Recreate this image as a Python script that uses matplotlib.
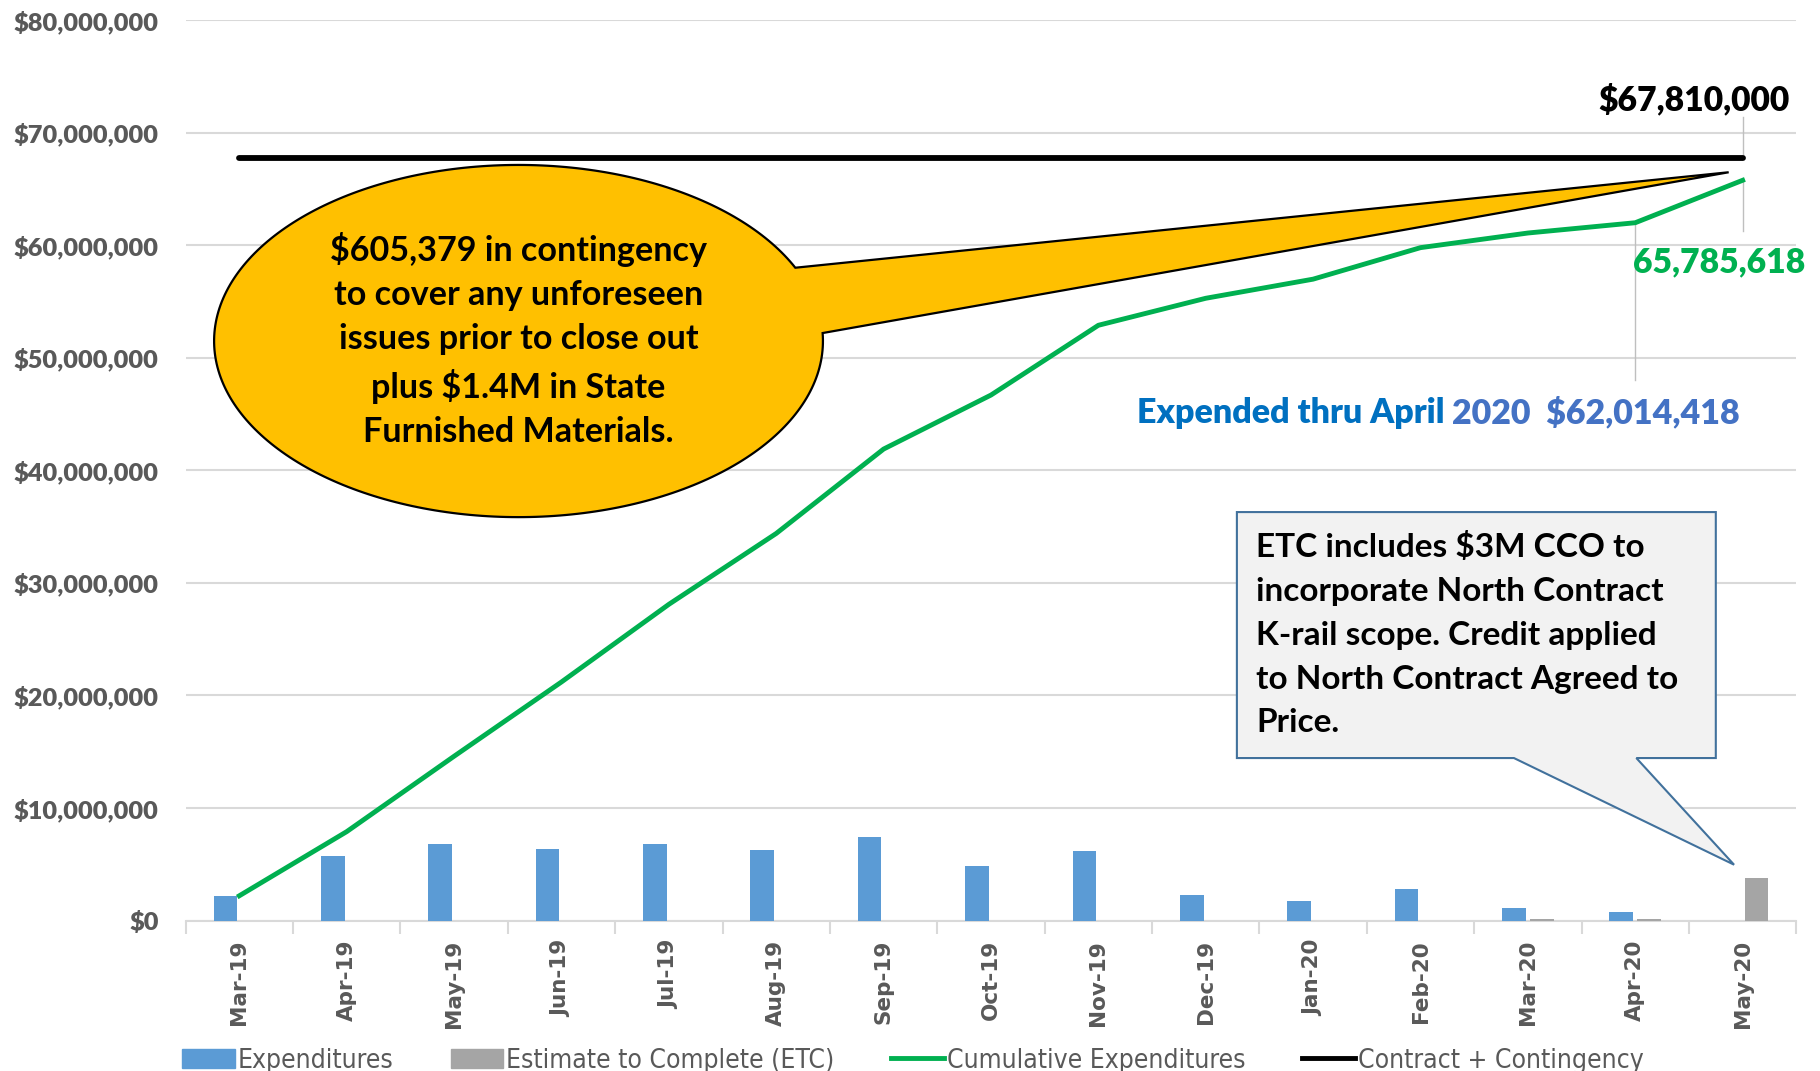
import numpy as np
import matplotlib
matplotlib.use('Agg')
import matplotlib.pyplot as plt
from matplotlib.patches import Polygon
from matplotlib.lines import Line2D
from matplotlib.patches import Patch

# chart data, values in $M
months = ['Mar-19', 'Apr-19', 'May-19', 'Jun-19', 'Jul-19', 'Aug-19', 'Sep-19', 'Oct-19',
          'Nov-19', 'Dec-19', 'Jan-20', 'Feb-20', 'Mar-20', 'Apr-20', 'May-20']
expenditures = [2.2, 5.7, 6.8, 6.4, 6.8, 6.3, 7.4, 4.85, 6.2, 2.3, 1.75, 2.8, 1.15, 0.75, 0]
etc = [0, 0, 0, 0, 0, 0, 0, 0, 0, 0, 0, 0, 0.15, 0.15, 3.8]
cumulative = [2.2, 7.9, 14.6, 21.2, 28.1, 34.4, 41.9, 46.7, 52.9, 55.3, 57.0, 59.8, 61.1, 62.014418, 65.785618]
contract = 67.81
y_ticks = [0, 10, 20, 30, 40, 50, 60, 70, 80]

BLUE = '#5B9BD5'
GRAY = '#A5A5A5'
GREEN = '#00B050'
TXT = '#595959'
FONT = ['Lato', 'DejaVu Sans']

fig = plt.figure(figsize=(18.2, 10.71), dpi=100)
ax = fig.add_axes([0.102, 0.1405, 0.885, 0.8405])

x = np.arange(len(months))
w = 0.22
ax.bar(x - 0.13, expenditures, w, color=BLUE, zorder=3)
ax.bar(x + 0.13, etc, w, color=GRAY, zorder=3)
ax.plot(x, cumulative, color=GREEN, lw=3.5, zorder=4)
ax.plot([x[0], x[-1]], [contract, contract], color='black', lw=4.2,
        solid_capstyle='round', zorder=4)

ax.set_xlim(-0.5, len(months) - 0.5)
ax.set_ylim(0, 80)
ax.set_yticks(y_ticks)
ax.set_yticklabels(['$' + format(v * 1000000, ',d') for v in y_ticks],
                   family=FONT, fontweight='heavy', fontsize=18.3, color=TXT)
ax.set_xticks(x)
ax.set_xticklabels(months, rotation=90, family='DejaVu Sans', fontweight='bold',
                   fontsize=15.5, color=TXT)
ax.set_xticks(np.arange(-0.5, len(months)), minor=True)
ax.tick_params(axis='x', which='major', length=0, pad=14)
ax.tick_params(axis='x', which='minor', length=9, color='#D9D9D9', width=1.5)
ax.tick_params(axis='y', length=0, pad=19.5)
ax.grid(axis='y', color='#D9D9D9', lw=1.5, zorder=0)
for s in ['top', 'right', 'left']:
    ax.spines[s].set_visible(False)
ax.spines['bottom'].set_color('#D9D9D9')
ax.spines['bottom'].set_linewidth(1.5)

# data labels with leader lines
ax.plot([14, 14], [contract, 71.4], color='#BFBFBF', lw=1, zorder=2)
ax.text(13.55, 72.9, '$67,810,000', ha='center', va='center', family=FONT,
        fontweight='heavy', fontsize=24.2, color='black')
ax.plot([14, 14], [cumulative[-1], 61.3], color='#BFBFBF', lw=1, zorder=2)
ax.text(13.78, 58.5, '65,785,618', ha='center', va='center', family=FONT,
        fontweight='heavy', fontsize=24.3, color=GREEN)
ax.plot([13, 13], [cumulative[-2], 48.0], color='#BFBFBF', lw=1, zorder=2)
t1 = ax.text(8.36, 45.1, 'Expended thru April ', ha='left', va='center', family=FONT,
             fontweight='heavy', fontsize=24.5, color='#0070C0')
fig.canvas.draw()
ax.annotate('2020  $62,014,418', xycoords=t1, xy=(1, 0.5), va='center', ha='left',
            family=FONT, fontweight='heavy', fontsize=24.5, color='#4472C4')

# yellow speech bubble
cx, cy, rx, ry = 2.60, 51.5, 2.835, 15.65
tip = (13.87, 66.5)
a0, a1 = np.radians(2.6), np.radians(24.6)
ang = np.linspace(a1, a0 + 2 * np.pi, 300)
pts = [tip] + list(zip(cx + rx * np.cos(ang), cy + ry * np.sin(ang))) + [tip]
ax.add_patch(Polygon(pts, closed=True, facecolor='#FFC000', edgecolor='black',
                     lw=1.6, zorder=5))
ax.text(cx, 51.6, '$605,379 in contingency\nto cover any unforeseen\nissues prior to close out\n'
        'plus $1.4M in State\nFurnished Materials.', ha='center', va='center',
        family=FONT, fontweight='bold', fontsize=24.6, linespacing=1.47, zorder=6)

# gray rectangular callout
box = [(9.29, 36.3), (13.75, 36.3), (13.75, 14.44), (13.01, 14.44), (13.92, 4.96),
       (11.87, 14.44), (9.29, 14.44)]
ax.add_patch(Polygon(box, closed=True, facecolor='#F2F2F2', edgecolor='#41719C',
                     lw=1.5, zorder=5))
ax.text(9.47, 25.4, 'ETC includes $3M CCO to\nincorporate North Contract\n'
        'K-rail scope. Credit applied\nto North Contract Agreed to\nPrice.',
        ha='left', va='center', family=FONT, fontweight='bold', fontsize=24,
        linespacing=1.62, zorder=6)

handles = [Patch(color=BLUE), Patch(color=GRAY),
           Line2D([], [], color=GREEN, lw=3.5), Line2D([], [], color='black', lw=3.5)]
labels = ['Expenditures', 'Estimate to Complete (ETC)', 'Cumulative Expenditures',
          'Contract + Contingency']
fig.legend(handles, labels, loc='center', bbox_to_anchor=(0.5016, 0.0097), ncol=4,
           frameon=False, prop={'family': 'DejaVu Sans', 'stretch': 'condensed', 'size': 19},
           labelcolor=TXT, handlelength=2.0, handleheight=0.7, handletextpad=0.1,
           columnspacing=2.16)

fig.savefig('out.png', dpi=100)
